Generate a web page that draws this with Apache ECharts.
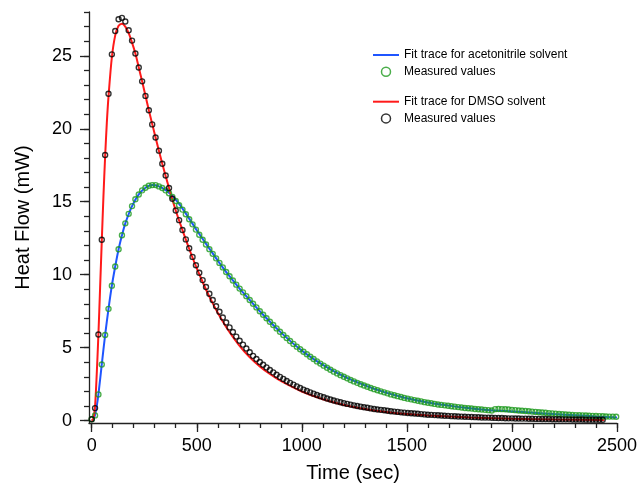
<!DOCTYPE html>
<html>
<head>
<meta charset="utf-8">
<script src="https://cdn.jsdelivr.net/npm/echarts@6/dist/echarts.min.js"></script>
<style>html,body{margin:0;padding:0;background:#fff;}#chart{width:641px;height:488px;}</style>
</head>
<body>
<div id="chart"></div>
<script>
// Sample times (sec) of the measured values
const sampleTimes = [
  0,16,32,48,64,80,96,112,128,144,
  160,176,192,208,224,240,256,272,288,304,
  320,336,352,368,384,400,416,432,448,464,
  480,496,512,528,544,560,576,592,608,624,
  640,656,672,688,704,720,736,752,768,784,
  800,816,832,848,864,880,896,912,928,944,
  960,976,992,1008,1024,1040,1056,1072,1088,1104,
  1120,1136,1152,1168,1184,1200,1216,1232,1248,1264,
  1280,1296,1312,1328,1344,1360,1376,1392,1408,1424,
  1440,1456,1472,1488,1504,1520,1536,1552,1568,1584,
  1600,1616,1632,1648,1664,1680,1696,1712,1728,1744,
  1760,1776,1792,1808,1824,1840,1856,1872,1888,1904,
  1920,1936,1952,1968,1984,2000,2016,2032,2048,2064,
  2080,2096,2112,2128,2144,2160,2176,2192,2208,2224,
  2240,2256,2272,2288,2304,2320,2336,2352,2368,2384,
  2400,2416,2432,2448,2464,2480,2496
];
// Measured heat flow (mW), acetonitrile solvent
const acetonitrileMeasured = [
  0.10,0.36,1.80,3.85,5.87,7.66,9.25,10.56,11.74,12.70,
  13.52,14.17,14.70,15.17,15.50,15.78,15.96,16.10,16.14,16.14,
  16.05,15.94,15.78,15.58,15.33,15.05,14.76,14.46,14.14,13.80,
  13.45,13.09,12.74,12.40,12.07,11.75,11.43,11.12,10.81,10.50,
  10.19,9.89,9.60,9.32,9.05,8.79,8.53,8.27,8.01,7.76,
  7.50,7.26,7.02,6.78,6.55,6.32,6.09,5.87,5.66,5.46,
  5.26,5.07,4.89,4.72,4.55,4.38,4.22,4.06,3.91,3.77,
  3.63,3.49,3.36,3.24,3.12,3.01,2.90,2.79,2.69,2.59,
  2.50,2.41,2.32,2.24,2.16,2.08,2.01,1.94,1.87,1.80,
  1.74,1.68,1.62,1.56,1.51,1.46,1.41,1.36,1.32,1.27,
  1.23,1.19,1.15,1.11,1.08,1.05,1.02,0.99,0.96,0.93,
  0.90,0.87,0.85,0.83,0.80,0.78,0.76,0.74,0.72,0.70,
  0.79,0.80,0.79,0.78,0.76,0.74,0.72,0.70,0.68,0.66,
  0.64,0.62,0.60,0.58,0.56,0.54,0.52,0.50,0.48,0.46,
  0.44,0.42,0.41,0.39,0.38,0.37,0.36,0.35,0.34,0.33,
  0.32,0.31,0.30,0.29,0.28,0.28,0.27
];
// Measured heat flow (mW), DMSO solvent
const dmsoMeasured = [
  0.10,0.86,5.90,12.40,18.20,22.40,25.10,26.70,27.50,27.60,
  27.35,26.75,26.04,25.16,24.20,23.25,22.25,21.27,20.30,19.40,
  18.50,17.60,16.80,15.94,15.20,14.40,13.74,13.06,12.42,11.81,
  11.22,10.65,10.13,9.63,9.16,8.70,8.27,7.84,7.46,7.07,
  6.73,6.39,6.07,5.76,5.48,5.21,4.94,4.69,4.44,4.22,
  4.02,3.83,3.65,3.47,3.31,3.15,3.00,2.86,2.72,2.59,
  2.47,2.35,2.24,2.13,2.03,1.94,1.85,1.76,1.68,1.60,
  1.52,1.45,1.38,1.32,1.26,1.20,1.15,1.10,1.05,1.00,
  0.96,0.92,0.88,0.84,0.80,0.77,0.74,0.71,0.68,0.65,
  0.62,0.60,0.57,0.55,0.53,0.51,0.49,0.47,0.45,0.43,
  0.41,0.40,0.38,0.37,0.35,0.34,0.33,0.31,0.30,0.29,
  0.28,0.27,0.26,0.25,0.24,0.23,0.22,0.21,0.21,0.20,
  0.19,0.18,0.18,0.17,0.16,0.16,0.15,0.15,0.14,0.14,
  0.13,0.13,0.12,0.12,0.11,0.11,0.11,0.10,0.10,0.10,
  0.09,0.09,0.09,0.08,0.08,0.08,0.08,0.07,0.07,0.07,
  0.07,0.06,0.06
];
// Fit trace, acetonitrile
const acetonitrileFitTimes = [0,8,16,24,32,48,64,80,96,112,128,144,160,192,224,256,288,320,352,384,416,450,500,550,600,650,700,750,800,900,1000,1100,1200,1300,1400,1500,1600,1700,1800,1900,2000,2100,2200,2300,2400,2500];
const acetonitrileFit = [0,0.05,0.4,1.0,1.8,3.85,5.87,7.66,9.25,10.56,11.74,12.7,13.52,14.7,15.5,15.96,16.14,16.05,15.8,15.4,14.85,14.15,13.05,12.0,10.97,10.0,9.12,8.3,7.5,6.05,4.8,3.82,3.03,2.42,1.92,1.54,1.25,1.03,0.85,0.71,0.63,0.54,0.45,0.37,0.29,0.22];
// Fit trace, DMSO
const dmsoFitTimes = [0,8,16,24,32,40,48,56,64,72,80,96,112,128,144,160,176,192,208,224,240,272,304,336,368,400,432,464,496,528,560,600,650,700,750,800,850,900,1000,1100,1200,1300,1400,1500,1600,1700,1800,2000,2200,2440];
const dmsoFit = [0,0.15,1.0,3.2,5.9,9.1,12.3,15.4,18.1,20.4,22.2,24.9,26.4,27.05,27.2,27.0,26.55,25.9,25.15,24.2,23.25,21.27,19.4,17.6,15.94,14.4,13.06,11.78,10.58,9.5,8.5,7.4,6.2,5.2,4.38,3.72,3.18,2.72,2.0,1.47,1.08,0.8,0.6,0.45,0.35,0.28,0.22,0.13,0.08,0.05];

const xMajorTicks = [0,500,1000,1500,2000,2500];
const xMinorTicks = [0,100,200,300,400,500,600,700,800,900,1000,1100,1200,1300,1400,1500,1600,1700,1800,1900,2000,2100,2200,2300,2400,2500];
const yMajorTicks = [0,5,10,15,20,25];
const yMinorTicks = [0,1,2,3,4,5,6,7,8,9,10,11,12,13,14,15,16,17,18,19,20,21,22,23,24,25,26,27,28];

const pair = (xs, ys) => ys.map((v, i) => [xs[i], v]);
const FONT = "'Liberation Sans', Arial, sans-serif";
const AX = '#222';
const LINE_ICON = 'path://M0,0H13V1H0Z';
const plain = v => String(v);

const chart = echarts.init(document.getElementById('chart'), null, {renderer: 'canvas'});
const X_MIN = -12.8, X_MAX = 2500, Y_MIN = -0.16, Y_MAX = 28;

const legendText = {fontSize: 12, lineHeight: 14, color: '#000', fontFamily: FONT};

chart.setOption({
  animation: false,
  backgroundColor: '#fff',
  grid: {left: 89, right: 24, top: 12, bottom: 62, containLabel: false},
  xAxis: [
    {type: 'value', min: X_MIN, max: X_MAX, position: 'bottom',
     name: 'Time (sec)', nameLocation: 'middle', nameGap: 40,
     nameTextStyle: {fontSize: 20, color: '#000', fontFamily: FONT},
     axisLine: {show: true, onZero: false, lineStyle: {color: AX, width: 1.3}},
     axisTick: {show: true, length: 9, customValues: xMajorTicks, lineStyle: {color: AX, width: 1.3}},
     axisLabel: {show: true, customValues: xMajorTicks, formatter: plain, margin: 14, fontSize: 18, color: '#000', fontFamily: FONT},
     splitLine: {show: false}},
    {type: 'value', min: X_MIN, max: X_MAX, position: 'bottom',
     axisLine: {show: false, onZero: false},
     axisTick: {show: true, length: 5, customValues: xMinorTicks, lineStyle: {color: AX, width: 1.3}},
     axisLabel: {show: false}, splitLine: {show: false}}
  ],
  yAxis: [
    {type: 'value', min: Y_MIN, max: Y_MAX, position: 'left',
     name: 'Heat Flow (mW)', nameLocation: 'middle', nameGap: 56, nameRotate: 90,
     nameTextStyle: {fontSize: 20, color: '#000', fontFamily: FONT},
     axisLine: {show: true, onZero: false, lineStyle: {color: AX, width: 1.3}},
     axisTick: {show: true, length: 9, customValues: yMajorTicks, lineStyle: {color: AX, width: 1.3}},
     axisLabel: {show: true, customValues: yMajorTicks, formatter: plain, margin: 17, fontSize: 18, color: '#000', fontFamily: FONT},
     splitLine: {show: false}},
    {type: 'value', min: Y_MIN, max: Y_MAX, position: 'left',
     axisLine: {show: false, onZero: false},
     axisTick: {show: true, length: 5, customValues: yMinorTicks, lineStyle: {color: AX, width: 1.3}},
     axisLabel: {show: false}, splitLine: {show: false}}
  ],
  legend: [
    {data: [
       {name: 'Fit trace for acetonitrile solvent', icon: LINE_ICON},
       {name: 'Measured values', itemStyle: {borderWidth: 1.5}}],
     orient: 'vertical', left: 373, top: 48, padding: 0, itemGap: 2.7,
     itemWidth: 26, itemHeight: 9, symbolKeepAspect: true, textStyle: legendText},
    {data: [
       {name: 'Fit trace for DMSO solvent', icon: LINE_ICON},
       {name: 'Measured values ', itemStyle: {borderWidth: 1.5}}],
     orient: 'vertical', left: 373, top: 94.7, padding: 0, itemGap: 2.7,
     itemWidth: 26, itemHeight: 9, symbolKeepAspect: true, textStyle: legendText}
  ],
  series: [
    {name: 'Fit trace for acetonitrile solvent', type: 'line', symbol: 'none', smooth: 0.3,
     data: pair(acetonitrileFitTimes, acetonitrileFit),
     lineStyle: {color: '#1f55ff', width: 2}, itemStyle: {color: '#1f55ff'}, z: 2},
    {name: 'Measured values', type: 'scatter', symbol: 'circle', symbolSize: 5, symbolKeepAspect: true,
     data: pair(sampleTimes, acetonitrileMeasured),
     itemStyle: {color: 'rgba(0,0,0,0)', borderColor: '#1e9a1e', borderWidth: 1.4}, z: 3},
    {name: 'Fit trace for DMSO solvent', type: 'line', symbol: 'none', smooth: 0.3,
     data: pair(dmsoFitTimes, dmsoFit),
     lineStyle: {color: '#ff1a1a', width: 2}, itemStyle: {color: '#ff1a1a'}, z: 2},
    {name: 'Measured values ', type: 'scatter', symbol: 'circle', symbolSize: 5, symbolKeepAspect: true,
     data: pair(sampleTimes, dmsoMeasured),
     itemStyle: {color: 'rgba(0,0,0,0)', borderColor: '#000', borderWidth: 1.4}, z: 3}
  ]
});
</script>
</body>
</html>
